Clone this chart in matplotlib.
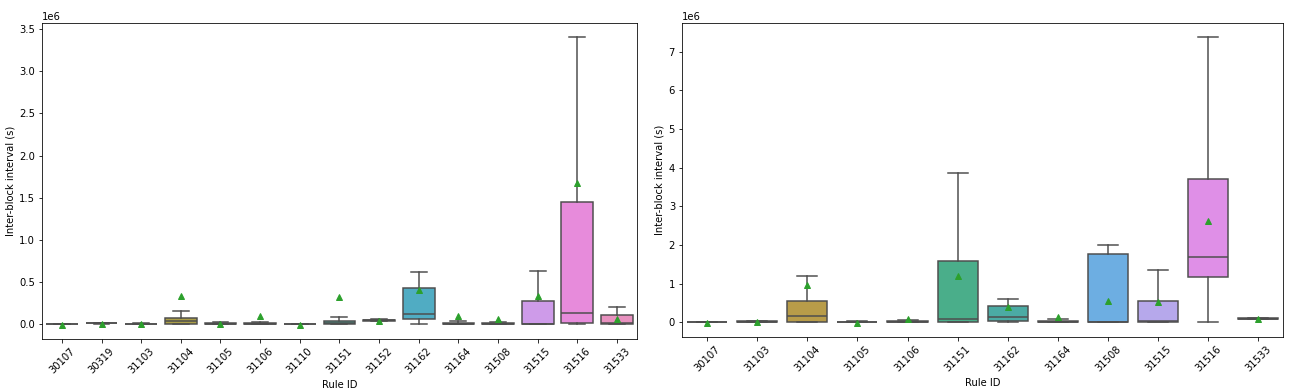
import matplotlib
matplotlib.use("Agg")
import matplotlib.pyplot as plt
import seaborn as sns

# values in units of 1e6 seconds
ids_a = ["30107", "30319", "31103", "31104", "31105", "31106", "31110", "31151",
         "31152", "31162", "31164", "31508", "31515", "31516", "31533"]
lo_a = [0.0, 0.008, 0.0, 0.0, 0.0, 0.0, 0.0, 0.0, 0.040, 0.0, 0.0, 0.0, 0.0, 0.0, 0.0]
q1_a = [0.0, 0.010, 0.0, 0.0, 0.0, 0.0, 0.0, 0.0, 0.044, 0.056, 0.0, 0.0, 0.0, 0.02, 0.004]
med_a = [0.002, 0.012, 0.003, 0.036, 0.005, 0.005, 0.002, 0.015, 0.048, 0.124, 0.005, 0.005, 0.003, 0.134, 0.01]
q3_a = [0.005, 0.016, 0.008, 0.072, 0.018, 0.018, 0.005, 0.040, 0.052, 0.424, 0.018, 0.015, 0.272, 1.45, 0.115]
hi_a = [0.008, 0.018, 0.012, 0.156, 0.025, 0.025, 0.008, 0.088, 0.056, 0.62, 0.036, 0.025, 0.632, 3.40, 0.21]
mean_a = [-0.005, 0.005, 0.005, 0.34, 0.005, 0.092, -0.005, 0.32, 0.04, 0.41, 0.096, 0.056, 0.33, 1.676, 0.06]

ids_b = ["30107", "31103", "31104", "31105", "31106", "31151", "31162", "31164",
         "31508", "31515", "31516", "31533"]
lo_b = [0.0, 0.0, 0.0, 0.0, 0.0, 0.0, 0.0, 0.0, 0.0, 0.0, 0.0, 0.09]
q1_b = [0.0, 0.0, 0.0, 0.0, 0.0, 0.01, 0.043, 0.0, 0.0, 0.0, 1.17, 0.095]
med_b = [0.003, 0.01, 0.173, 0.005, 0.02, 0.086, 0.13, 0.02, 0.01, 0.04, 1.70, 0.1]
q3_b = [0.008, 0.025, 0.545, 0.02, 0.04, 1.58, 0.42, 0.045, 1.76, 0.545, 3.71, 0.105]
hi_b = [0.012, 0.03, 1.2, 0.025, 0.06, 3.87, 0.6, 0.09, 2.0, 1.355, 7.37, 0.11]
mean_b = [-0.01, 0.01, 0.967, -0.01, 0.08, 1.2, 0.4, 0.147, 0.55, 0.53, 2.62, 0.09]

plt.rcParams["font.family"] = ["DejaVu Sans"]
plt.rcParams["font.size"] = 10

fig = plt.figure(figsize=(1293 / 72, 391 / 72), dpi=72)
ax1 = fig.add_axes([0.0325, 0.133, 0.460, 0.808])
ax2 = fig.add_axes([0.5275, 0.138, 0.465, 0.803])

gray = (0.3, 0.3, 0.3)


def draw(ax, ids, lo, q1, med, q3, hi, mean):
    n = len(ids)
    stats = []
    for i in range(n):
        stats.append(dict(whislo=lo[i] * 1e6, q1=q1[i] * 1e6, med=med[i] * 1e6,
                          q3=q3[i] * 1e6, whishi=hi[i] * 1e6, mean=mean[i] * 1e6,
                          fliers=[]))
    cols = [sns.desaturate(c, 0.75) for c in sns.husl_palette(n, l=0.7)]
    bp = ax.bxp(stats, positions=range(n), widths=0.8, patch_artist=True,
                showmeans=True, showfliers=False,
                boxprops=dict(edgecolor=gray, linewidth=1.5),
                whiskerprops=dict(color=gray, linewidth=1.5),
                capprops=dict(color=gray, linewidth=1.5),
                medianprops=dict(color=gray, linewidth=1.5),
                meanprops=dict(marker="^", markerfacecolor="C2",
                               markeredgecolor="C2", markersize=6))
    for patch, c in zip(bp["boxes"], cols):
        patch.set_facecolor(c)
    ax.set_xticks(range(n))
    ax.set_xticklabels(ids, rotation=45)
    ax.set_xlim(-0.5, n - 0.5)
    ax.set_xlabel("Rule ID")
    ax.set_ylabel("Inter-block interval (s)")


draw(ax1, ids_a, lo_a, q1_a, med_a, q3_a, hi_a, mean_a)
draw(ax2, ids_b, lo_b, q1_b, med_b, q3_b, hi_b, mean_b)

fig.savefig("out.png", dpi=72)
